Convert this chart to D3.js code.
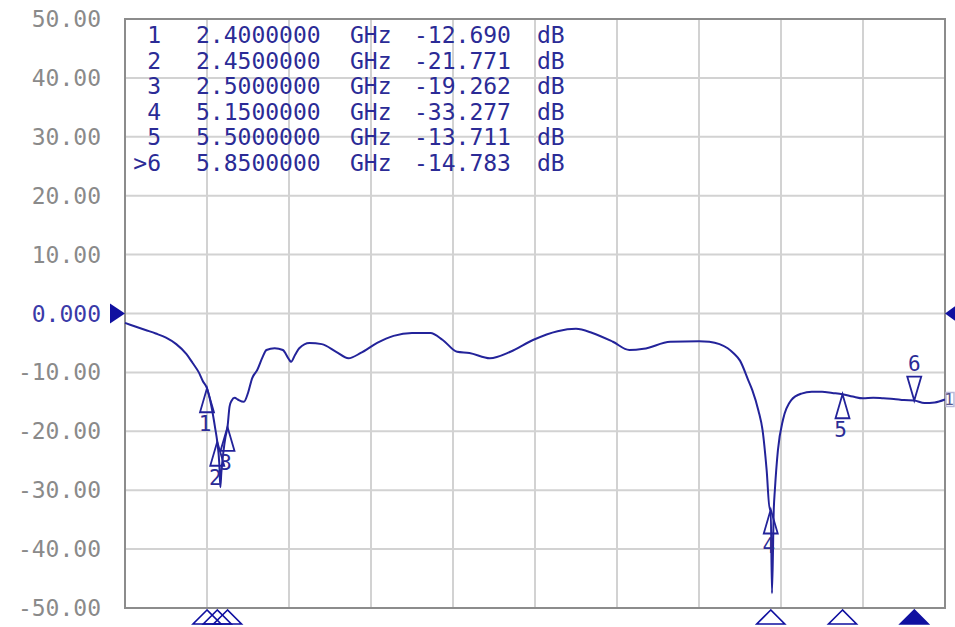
<!DOCTYPE html>
<html>
<head>
<meta charset="utf-8">
<script src="https://cdn.jsdelivr.net/npm/d3@7"></script>
<style>
  body { margin: 0; background: #fff; }
  .yLabel { font-family: "DejaVu Sans Mono", monospace; font-size: 23px; fill: #8a8a8a; }
  .mkText { font-family: "DejaVu Sans Mono", monospace; font-size: 23px; fill: #2b2b96; }
</style>
</head>
<body>
<div id="chart"></div>
<script>
//Trace data (GHz, dB)
var freqs = [2.00, 2.05, 2.10, 2.15, 2.20, 2.25, 2.30, 2.33, 2.36, 2.38, 2.40, 2.42, 2.44, 2.45, 2.46, 2.465,
  2.47, 2.48, 2.49, 2.50, 2.51, 2.52, 2.535, 2.55, 2.58, 2.60, 2.62, 2.645, 2.67, 2.69, 2.73, 2.77, 2.80,
  2.81, 2.83, 2.85, 2.90, 2.96, 3.03, 3.09, 3.15, 3.23, 3.31, 3.40, 3.49, 3.55, 3.62, 3.68, 3.78, 3.88,
  3.99, 4.11, 4.20, 4.28, 4.38, 4.46, 4.53, 4.66, 4.80, 4.85, 4.90, 4.94, 4.97, 5.00, 5.04, 5.06, 5.09,
  5.11, 5.13, 5.145, 5.15, 5.156, 5.165, 5.17, 5.185, 5.21, 5.25, 5.30, 5.35, 5.40, 5.45, 5.50, 5.55,
  5.60, 5.65, 5.70, 5.75, 5.80, 5.85, 5.90, 5.95, 6.00];
var s11 = [-1.6, -2.2, -2.8, -3.4, -4.1, -5.2, -6.9, -8.4, -10.0, -11.5, -12.69, -15.5, -19.5, -21.77, -25.5, -29.5,
  -27.0, -23.5, -21.0, -19.26, -15.8, -14.8, -14.3, -14.6, -15.0, -13.5, -11.0, -9.6, -7.5, -6.2, -5.9, -6.2, -7.8,
  -8.2, -7.0, -5.9, -5.0, -5.2, -6.5, -7.6, -6.7, -5.0, -3.8, -3.3, -3.3, -4.5, -6.5, -6.7, -7.6, -6.5,
  -4.5, -3.0, -2.6, -3.3, -4.8, -6.2, -6.0, -4.8, -4.7, -4.8, -5.2, -5.9, -6.8, -8.0, -11.3, -13.0, -16.5,
  -19.8, -26.6, -33.3, -33.277, -47.5, -33.0, -30.0, -23.2, -18.0, -14.7, -13.6, -13.3, -13.3, -13.5, -13.711, -14.1,
  -14.4, -14.3, -14.4, -14.5, -14.7, -14.783, -15.2, -15.1, -14.6];

//Markers
var markerIds = ["1", "2", "3", "4", "5", "6"];
var markerFreqs = [2.4, 2.45, 2.5, 5.15, 5.5, 5.85];
var markerVals = [-12.690, -21.771, -19.262, -33.277, -13.711, -14.783];
var activeMarker = "6";

//Axis ticks
var yTicks = [50, 40, 30, 20, 10, 0, -10, -20, -30, -40, -50];
var yTickLabels = ["50.00", "40.00", "30.00", "20.00", "10.00", "0.000", "-10.00", "-20.00", "-30.00", "-40.00", "-50.00"];
var xTicks = [2.0, 2.4, 2.8, 3.2, 3.6, 4.0, 4.4, 4.8, 5.2, 5.6, 6.0];

var svgWidth = 955;
var svgHeight = 627;
var margin = { top: 19, right: 10, bottom: 19, left: 125 };
var width = 820;
var height = svgHeight - margin.top - margin.bottom;

var traceColor = "#23239a";

var svg = d3.select("#chart")
  .append("svg")
  .attr("width", svgWidth)
  .attr("height", svgHeight);

var chartGroup = svg.append("g")
  .attr("transform", `translate(${margin.left}, ${margin.top})`);

//Scales
var x = d3.scaleLinear().domain([2, 6]).range([0, width]);
var y = d3.scaleLinear().domain([-50, 50]).range([height, 0]);

//Grid
chartGroup.append("g")
  .selectAll("line")
  .data(xTicks)
  .enter()
  .append("line")
  .attr("x1", d => x(d)).attr("x2", d => x(d))
  .attr("y1", 0).attr("y2", height)
  .attr("stroke", "#d2d2d2")
  .attr("stroke-width", 2);

chartGroup.append("g")
  .selectAll("line")
  .data(yTicks)
  .enter()
  .append("line")
  .attr("x1", 0).attr("x2", width)
  .attr("y1", d => y(d)).attr("y2", d => y(d))
  .attr("stroke", "#d2d2d2")
  .attr("stroke-width", 2);

//Frame
chartGroup.append("rect")
  .attr("width", width)
  .attr("height", height)
  .attr("fill", "none")
  .attr("stroke", "#8c8c8c")
  .attr("stroke-width", 2);

//Y labels
chartGroup.selectAll(".yLabel")
  .data(yTicks)
  .enter()
  .append("text")
  .attr("class", "yLabel")
  .attr("x", -24)
  .attr("y", d => y(d))
  .attr("dy", "0.35em")
  .attr("text-anchor", "end")
  .style("fill", d => d === 0 ? "#3a3aa8" : null)
  .text((d, i) => yTickLabels[i]);

//Trace
var traceData = freqs.map((f, i) => [f, s11[i]]);
var line = d3.line()
  .curve(d3.curveMonotoneX)
  .x(d => x(d[0]))
  .y(d => y(d[1]));

chartGroup.append("path")
  .datum(traceData)
  .attr("d", line)
  .attr("fill", "none")
  .attr("stroke", traceColor)
  .attr("stroke-width", 2);

//Reference level triangles
chartGroup.append("path")
  .attr("d", `M${x(2) - 15},${y(0) - 10} L${x(2)},${y(0)} L${x(2) - 15},${y(0) + 10} Z`)
  .attr("fill", "#1010a0");
chartGroup.append("path")
  .attr("d", `M${x(6) + 14},${y(0) - 10} L${x(6)},${y(0)} L${x(6) + 14},${y(0) + 10} Z`)
  .attr("fill", "#1010a0");

//Trace end tag
chartGroup.append("rect")
  .attr("x", x(6) + 1)
  .attr("y", y(s11[s11.length - 1]) - 7)
  .attr("width", 8)
  .attr("height", 14)
  .attr("fill", "#fff")
  .attr("stroke", "#b9b9d9")
  .attr("stroke-width", 1.5);
chartGroup.append("text")
  .attr("class", "mkText")
  .attr("x", svgWidth - margin.left - 1)
  .attr("y", y(s11[s11.length - 1]))
  .attr("dy", "0.35em")
  .attr("text-anchor", "end")
  .style("font-size", "16px")
  .style("fill", "#55558f")
  .text("1");

//Marker triangles on the trace
var markers = markerIds.map((id, i) => ({ id: id, f: markerFreqs[i], v: markerVals[i] }));
var triW = 7, triH = 24;

markers.forEach(m => {
  var mx = x(m.f), my = y(m.v);
  if (m.id === activeMarker) {
    chartGroup.append("path")
      .attr("d", `M${mx},${my} L${mx - triW},${my - triH} L${mx + triW},${my - triH} Z`)
      .attr("fill", "#fff")
      .attr("stroke", traceColor)
      .attr("stroke-width", 1.8);
    chartGroup.append("text")
      .attr("class", "mkText")
      .attr("x", mx)
      .attr("y", my - triH - 6)
      .attr("text-anchor", "middle")
      .style("font-size", "21px")
      .text(m.id);
  } else {
    chartGroup.append("path")
      .attr("d", `M${mx},${my} L${mx - triW},${my + triH} L${mx + triW},${my + triH} Z`)
      .attr("fill", "none")
      .attr("stroke", traceColor)
      .attr("stroke-width", 1.8);
    chartGroup.append("text")
      .attr("class", "mkText")
      .attr("x", mx - 2)
      .attr("y", my + triH + 19)
      .attr("text-anchor", "middle")
      .style("font-size", "21px")
      .text(m.id);
  }
});

//Marker triangles under the axis
chartGroup.selectAll(".axisMk")
  .data(markers)
  .enter()
  .append("path")
  .attr("class", "axisMk")
  .attr("d", d => `M${x(d.f)},${height + 2} L${x(d.f) - 14},${height + 16} L${x(d.f) + 14},${height + 16} Z`)
  .attr("fill", d => d.id === activeMarker ? "#1010a0" : "none")
  .attr("stroke", "#1010a0")
  .attr("stroke-width", 1.6);

//Marker readout table
var rows = chartGroup.selectAll(".row")
  .data(markers)
  .enter()
  .append("g")
  .attr("class", "row")
  .attr("transform", (d, i) => `translate(0, ${16 + i * 25.5})`);

rows.append("text")
  .attr("class", "mkText")
  .attr("x", 36)
  .attr("dy", "0.35em")
  .attr("text-anchor", "end")
  .text(d => (d.id === activeMarker ? ">" : "") + d.id);

rows.append("text")
  .attr("class", "mkText")
  .attr("x", 71)
  .attr("dy", "0.35em")
  .text(d => d.f.toFixed(7));

rows.append("text")
  .attr("class", "mkText")
  .attr("x", 225)
  .attr("dy", "0.35em")
  .text("GHz");

rows.append("text")
  .attr("class", "mkText")
  .attr("x", 289)
  .attr("dy", "0.35em")
  .text(d => d.v.toFixed(3));

rows.append("text")
  .attr("class", "mkText")
  .attr("x", 412)
  .attr("dy", "0.35em")
  .text("dB");
</script>
</body>
</html>
